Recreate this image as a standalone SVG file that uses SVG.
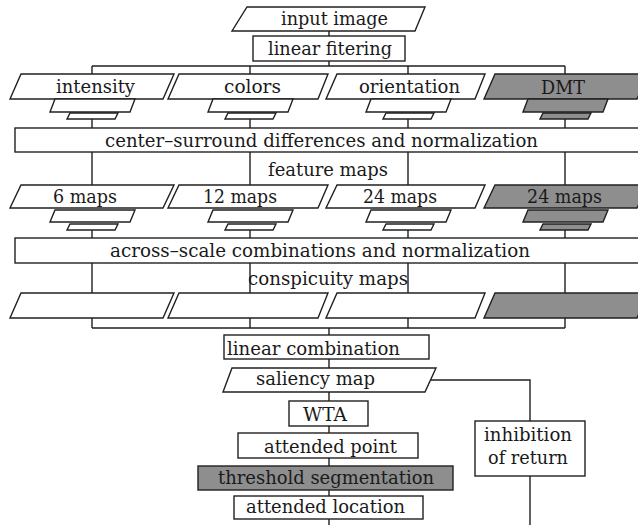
<svg xmlns="http://www.w3.org/2000/svg" width="638" height="525" viewBox="0 0 638 525">
<style>
.n{fill:#fff;stroke:#231f20;stroke-width:1.4}
.g{fill:#8e8e8e;stroke:#231f20;stroke-width:1.4}
.c{fill:none;stroke:#231f20;stroke-width:1.4}
text{font-family:'DejaVu Serif','Liberation Serif',serif;font-size:18.5px;fill:#1a1a1a}
</style>
<rect width="638" height="525" fill="#fff"/>
<g id="connectors" class="c">
<path d="M329,31V36 M329,61V66 M92,66H565 M92,66V74 M250,66V74 M408,66V74 M565,66V74"/>
<path d="M92,119V128 M250,119V128 M408,119V128 M565,119V128"/>
<path d="M92,152V185 M250,152V185 M408,152V185 M565,152V185"/>
<path d="M92,230V238 M250,230V238 M408,230V238 M565,230V238"/>
<path d="M92,263V293 M250,263V293 M408,263V293 M565,263V293"/>
<path d="M92,318V328 M250,318V328 M408,318V328 M565,318V328 M92,328H565 M329,328V335"/>
<path d="M329,359V368 M329,392V401 M329,426V433 M329,458V466 M329,490V496 M329,519V525"/>
<path d="M430,380H530V421 M530,476V525"/>
</g>
<g id="input-image">
<polygon class="n" points="247,7 425,7 415,31 232,31"/>
<text x="281" y="25" textLength="107" lengthAdjust="spacingAndGlyphs">input image</text>
</g>
<g id="linear-filtering">
<rect class="n" x="253" y="36" width="152" height="25"/>
<text x="268" y="55" textLength="124" lengthAdjust="spacingAndGlyphs">linear fitering</text>
</g>
<g id="intensity">
<polygon class="n" points="21,74 174,74 163,99 10,99"/>
<polygon class="n" points="55,99 135,99 130,112 50,112"/>
<polygon class="n" points="70,113 118,113 115,119 67,119"/>
<text x="56" y="93" textLength="79" lengthAdjust="spacingAndGlyphs">intensity</text>
</g>
<g id="colors">
<polygon class="n" points="179,74 328,74 318,99 168,99"/>
<polygon class="n" points="213,99 293,99 288,112 208,112"/>
<polygon class="n" points="228,113 276,113 273,119 225,119"/>
<text x="224" y="93" textLength="57" lengthAdjust="spacingAndGlyphs">colors</text>
</g>
<g id="orientation">
<polygon class="n" points="337,74 485,74 475,99 326,99"/>
<polygon class="n" points="371,99 451,99 446,112 366,112"/>
<polygon class="n" points="386,113 434,113 431,119 383,119"/>
<text x="359" y="93" textLength="101" lengthAdjust="spacingAndGlyphs">orientation</text>
</g>
<g id="dmt">
<polygon class="g" points="495,74 648,74 637,99 484,99"/>
<polygon class="g" points="528,99 608,99 603,112 523,112"/>
<polygon class="g" points="543,113 591,113 588,119 540,119"/>
<text x="541" y="94" textLength="44" lengthAdjust="spacingAndGlyphs">DMT</text>
</g>
<g id="center-surround">
<rect class="n" x="15" y="128" width="632" height="24"/>
<text x="105" y="147" textLength="433" lengthAdjust="spacingAndGlyphs">center–surround differences and normalization</text>
</g>
<g id="feature-maps-label">
<text x="268" y="176" textLength="120" lengthAdjust="spacingAndGlyphs">feature maps</text>
</g>
<g id="maps-6">
<polygon class="n" points="21,185 174,185 163,208 10,208"/>
<polygon class="n" points="55,210 135,210 130,222 50,222"/>
<polygon class="n" points="70,224 118,224 115,230 67,230"/>
<text x="53" y="203" textLength="64" lengthAdjust="spacingAndGlyphs">6 maps</text>
</g>
<g id="maps-12">
<polygon class="n" points="179,185 328,185 318,208 168,208"/>
<polygon class="n" points="213,210 293,210 288,222 208,222"/>
<polygon class="n" points="228,224 276,224 273,230 225,230"/>
<text x="203" y="203" textLength="74" lengthAdjust="spacingAndGlyphs">12 maps</text>
</g>
<g id="maps-24a">
<polygon class="n" points="337,185 485,185 475,208 326,208"/>
<polygon class="n" points="371,210 451,210 446,222 366,222"/>
<polygon class="n" points="386,224 434,224 431,230 383,230"/>
<text x="363" y="203" textLength="74" lengthAdjust="spacingAndGlyphs">24 maps</text>
</g>
<g id="maps-24b">
<polygon class="g" points="495,185 648,185 637,208 484,208"/>
<polygon class="g" points="528,210 608,210 603,222 523,222"/>
<polygon class="g" points="543,224 591,224 588,230 540,230"/>
<text x="527" y="203" textLength="75" lengthAdjust="spacingAndGlyphs">24 maps</text>
</g>
<g id="across-scale">
<rect class="n" x="15" y="238" width="632" height="25"/>
<text x="110" y="257" textLength="420" lengthAdjust="spacingAndGlyphs">across–scale combinations and normalization</text>
</g>
<g id="consp-1"><polygon class="n" points="21,293 174,293 163,318 10,318"/></g>
<g id="consp-2"><polygon class="n" points="179,293 328,293 318,318 168,318"/></g>
<g id="consp-3"><polygon class="n" points="337,293 485,293 475,318 326,318"/></g>
<g id="consp-4"><polygon class="g" points="495,293 648,293 637,318 484,318"/></g>
<g id="conspicuity-label">
<text x="248" y="285" textLength="160" lengthAdjust="spacingAndGlyphs">conspicuity maps</text>
</g>
<g id="linear-combination">
<rect class="n" x="224" y="335" width="205" height="24"/>
<text x="227" y="355" textLength="173" lengthAdjust="spacingAndGlyphs">linear combination</text>
</g>
<g id="saliency-map">
<polygon class="n" points="232,368 436,368 425,392 223,392"/>
<text x="256" y="385" textLength="119" lengthAdjust="spacingAndGlyphs">saliency map</text>
</g>
<g id="wta">
<rect class="n" x="289" y="401" width="79" height="25"/>
<text x="303" y="421" textLength="44" lengthAdjust="spacingAndGlyphs">WTA</text>
</g>
<g id="attended-point">
<rect class="n" x="238" y="433" width="180" height="25"/>
<text x="264" y="453" textLength="133" lengthAdjust="spacingAndGlyphs">attended point</text>
</g>
<g id="threshold-segmentation">
<rect class="g" x="198" y="466" width="255" height="24"/>
<text x="218" y="484" textLength="216" lengthAdjust="spacingAndGlyphs">threshold segmentation</text>
</g>
<g id="attended-location">
<rect class="n" x="234" y="496" width="189" height="23"/>
<text x="246" y="513" textLength="159" lengthAdjust="spacingAndGlyphs">attended location</text>
</g>
<g id="inhibition-of-return">
<rect class="n" x="475" y="421" width="110" height="55"/>
<text x="484" y="441" textLength="88" lengthAdjust="spacingAndGlyphs">inhibition</text>
<text x="488" y="464" textLength="80" lengthAdjust="spacingAndGlyphs">of return</text>
</g>
</svg>
